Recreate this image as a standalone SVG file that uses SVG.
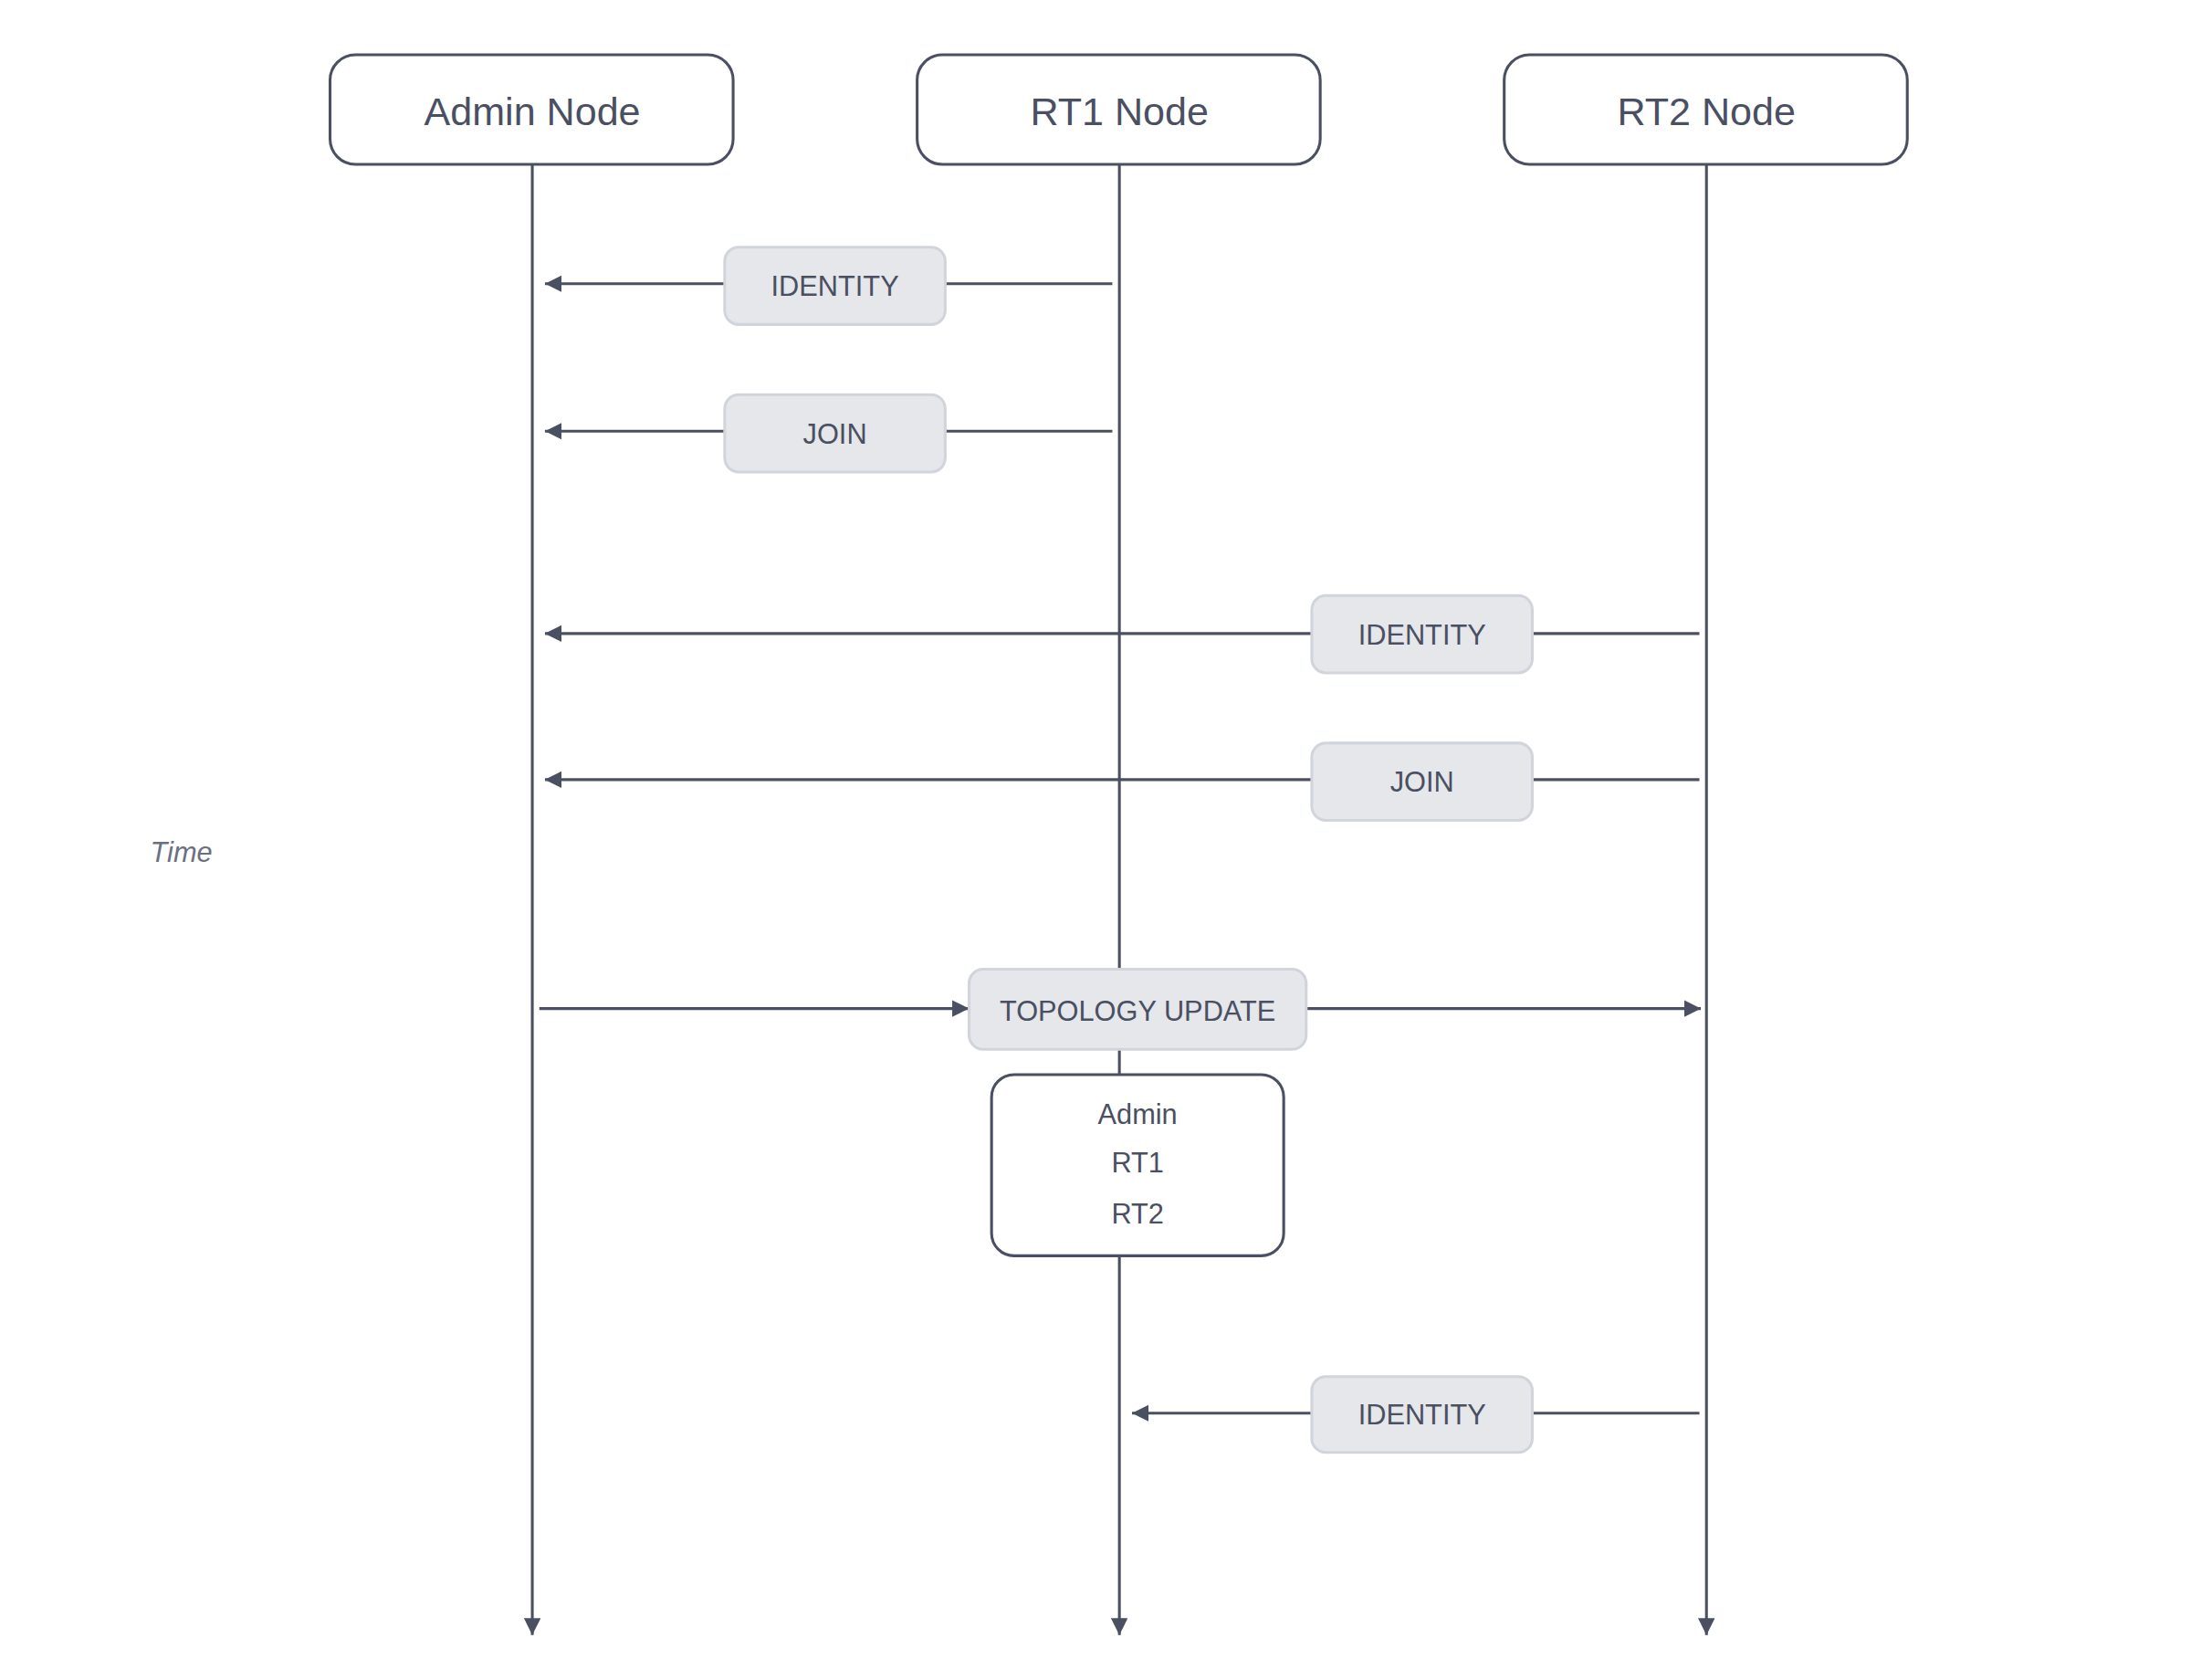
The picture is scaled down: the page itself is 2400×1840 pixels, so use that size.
<svg xmlns="http://www.w3.org/2000/svg" width="2400" height="1840" viewBox="0 0 2400 1840">
<style>
.hdr{fill:#fff;stroke:#4a5062;stroke-width:2}
.ht{font-family:"Liberation Sans",Arial,sans-serif;font-size:28px;fill:#4a5062;text-anchor:middle;dominant-baseline:central}
.ln{stroke:#4a5062;stroke-width:2;fill:none}
.lb{fill:#e5e7eb;stroke:#d1d5db;stroke-width:2}
.lt{font-family:"Liberation Sans",Arial,sans-serif;font-size:20px;fill:#4a5062;text-anchor:middle;dominant-baseline:central}
</style>
<defs>
<marker id="ah" viewBox="0 0 12 12" refX="12" refY="6" markerWidth="12" markerHeight="12" markerUnits="userSpaceOnUse" orient="auto"><path d="M0,0 L12,6 L0,12 z" fill="#4a5062"/></marker>
</defs>
<rect width="2400" height="1840" fill="#fff"/>
<g transform="scale(1.538462)">
<g id="connectors">
<line class="ln" x1="379" y1="117" x2="379" y2="1164" marker-end="url(#ah)"/>
<line class="ln" x1="797" y1="117" x2="797" y2="1164" marker-end="url(#ah)"/>
<line class="ln" x1="1215" y1="117" x2="1215" y2="1164" marker-end="url(#ah)"/>
<line class="ln" x1="792" y1="202" x2="388" y2="202" marker-end="url(#ah)"/>
<line class="ln" x1="792" y1="307" x2="388" y2="307" marker-end="url(#ah)"/>
<line class="ln" x1="1210" y1="451" x2="388" y2="451" marker-end="url(#ah)"/>
<line class="ln" x1="1210" y1="555" x2="388" y2="555" marker-end="url(#ah)"/>
<line class="ln" x1="384" y1="718" x2="690" y2="718" marker-end="url(#ah)"/>
<line class="ln" x1="930" y1="718" x2="1211" y2="718" marker-end="url(#ah)"/>
<line class="ln" x1="1210" y1="1006" x2="806" y2="1006" marker-end="url(#ah)"/>
</g>
<g id="admin"><rect class="hdr" x="235" y="39" width="287" height="78" rx="18"/><text class="ht" x="379" y="79">Admin Node</text></g>
<g id="rt1"><rect class="hdr" x="653" y="39" width="287" height="78" rx="18"/><text class="ht" x="797" y="79">RT1 Node</text></g>
<g id="rt2"><rect class="hdr" x="1071" y="39" width="287" height="78" rx="18"/><text class="ht" x="1215" y="79">RT2 Node</text></g>
<g id="m1"><rect class="lb" x="516" y="176" width="157" height="55" rx="10"/><text class="lt" x="594.5" y="204">IDENTITY</text></g>
<g id="m2"><rect class="lb" x="516" y="281" width="157" height="55" rx="10"/><text class="lt" x="594.5" y="309">JOIN</text></g>
<g id="m3"><rect class="lb" x="934" y="424" width="157" height="55" rx="10"/><text class="lt" x="1012.5" y="452">IDENTITY</text></g>
<g id="m4"><rect class="lb" x="934" y="529" width="157" height="55" rx="10"/><text class="lt" x="1012.5" y="557">JOIN</text></g>
<g id="m5"><rect class="lb" x="690" y="690" width="240" height="57" rx="10"/><text class="lt" x="810" y="720">TOPOLOGY UPDATE</text></g>
<g id="topo"><rect class="hdr" x="706" y="765" width="208" height="129" rx="16"/><text class="lt" x="810" y="793">Admin</text><text class="lt" x="810" y="828">RT1</text><text class="lt" x="810" y="864">RT2</text></g>
<g id="m6"><rect class="lb" x="934" y="980" width="157" height="54" rx="10"/><text class="lt" x="1012.5" y="1007">IDENTITY</text></g>
<text x="107" y="607" font-family="Liberation Sans,Arial,sans-serif" font-size="20" font-style="italic" fill="#6b7080" dominant-baseline="central">Time</text>
</g>
</svg>
